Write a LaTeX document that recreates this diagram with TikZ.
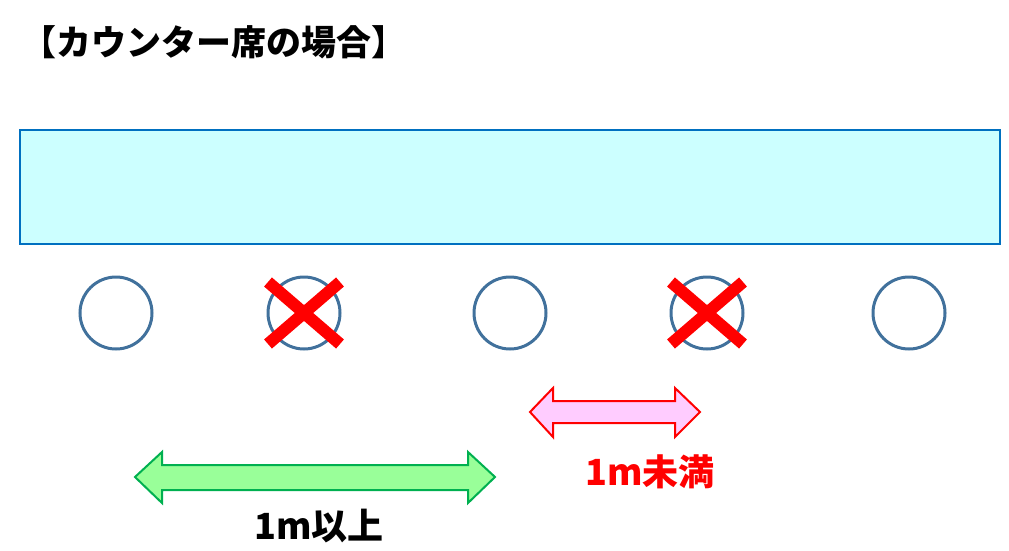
\documentclass[tikz,border=0pt]{standalone}
\usepackage{fontspec}
\usetikzlibrary{calc}
\newfontfamily\cjk{Noto Sans CJK JP}
\definecolor{counterfill}{HTML}{CCFFFF}
\definecolor{counterline}{HTML}{0070C0}
\definecolor{seatline}{HTML}{41719C}
\definecolor{pinkfill}{HTML}{FFCCFF}
\definecolor{greenfill}{HTML}{99FF99}
\definecolor{greenline}{HTML}{00B050}
\tikzset{
  seat/.style={circle, draw=seatline, line width=3pt, minimum size=72pt, inner sep=0pt},
  cross/.style={draw=red, line width=12pt},
  lbl/.style={font=\cjk\bfseries\fontsize{36}{40}\selectfont, inner sep=0pt},
}
\begin{document}
\begin{tikzpicture}[x=1pt,y=-1pt]
\useasboundingbox (0,0) rectangle (1009,551);
\node[lbl, font=\cjk\bfseries\fontsize{35}{38}\selectfont, anchor=west] (title) at (21,42) {【カウンター席の場合】};
\draw[fill=counterfill, draw=counterline, line width=2.5pt] (20,130) rectangle (1000,244);
\node[seat] (s1) at (116,313) {};
\node[seat] (s2) at (304,313) {};
\node[seat] (s3) at (510,313) {};
\node[seat] (s4) at (707,313) {};
\node[seat] (s5) at (909,313) {};
\foreach \s in {s2,s4}{
  \draw[cross] ($(\s)+(-36,-31)$) -- ($(\s)+(36,31)$);
  \draw[cross] ($(\s)+(-36,31)$) -- ($(\s)+(36,-31)$);
}
% red double arrow
\draw[fill=pinkfill, draw=red, line width=2pt, line join=miter]
  (530,412) -- (553,388) -- (553,401) -- (675,401) -- (675,388) -- (700,412)
  -- (675,437) -- (675,423) -- (553,423) -- (553,437) -- cycle;
\node[lbl, text=red] (less) at (650,472) {1m未満};
% green double arrow
\draw[fill=greenfill, draw=greenline, line width=2pt, line join=miter]
  (135,477) -- (162,452) -- (162,465) -- (468,465) -- (468,452) -- (495,477)
  -- (468,503) -- (468,490) -- (162,490) -- (162,503) -- cycle;
\node[lbl, text=black] (more) at (319,526) {1m以上};
\end{tikzpicture}
\end{document}
